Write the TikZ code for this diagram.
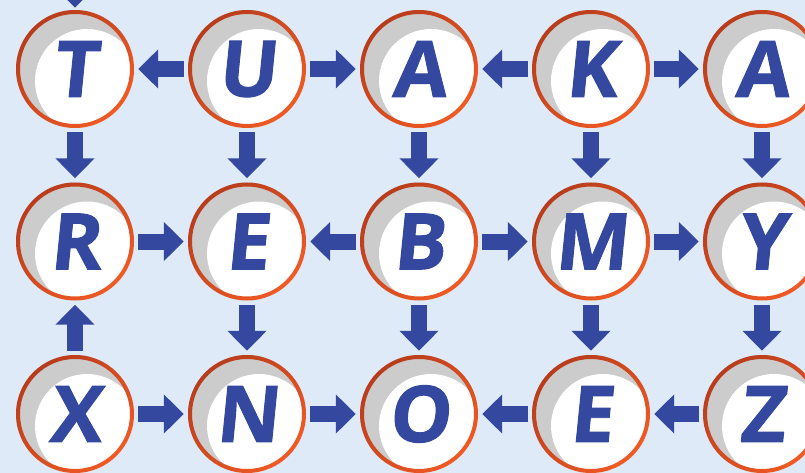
\documentclass[tikz,border=0pt]{standalone}
\usepackage{fontspec}
\newfontfamily\letterfont{Open Sans}[BoldFeatures={FakeSlant=0.1,FakeBold=1.2}]
\usetikzlibrary{arrows.meta}

\definecolor{bgblue}{RGB}{222,234,247}
\definecolor{letterblue}{RGB}{53,72,160}
\definecolor{shadegray}{RGB}{204,204,204}
\definecolor{ringdark}{RGB}{184,60,28}
\definecolor{ringlight}{RGB}{240,90,36}

\tikzset{
  letterdisc/.style={circle, minimum size=118pt, inner sep=0pt, fill=shadegray,
    path picture={\fill[white] ([xshift=12pt,yshift=-12pt]path picture bounding box.center) circle (52pt);},
    font=\letterfont\fontsize{78}{78}\selectfont\bfseries, text=letterblue},
  blockarrow/.style={line width=16pt, draw=letterblue,
    -{Triangle[width=38pt,length=20pt]}, shorten <=4pt, shorten >=4pt},
}

\begin{document}
\begin{tikzpicture}[x=1pt,y=-1pt]
            \useasboundingbox (0,0) rectangle (805,473);
            \clip (0,0) rectangle (805,473);
            \fill [bgblue] (0,0) rectangle (805,473);

            % Top row
            \node [letterdisc] (T)  at (75,69)  {T};
            \node [letterdisc] (U)  at (247,69) {U};
            \node [letterdisc] (A1) at (419,69) {A};
            \node [letterdisc] (K)  at (591,69) {K};
            \node [letterdisc] (A2) at (762,69) {A};

            % Middle row
            \node [letterdisc] (R)  at (75,241.5)  {R};
            \node [letterdisc] (E1) at (247,241.5) {E};
            \node [letterdisc] (B)  at (419,241.5) {B};
            \node [letterdisc] (M)  at (591,241.5) {M};
            \node [letterdisc] (Y)  at (762,241.5) {Y};

            % Bottom row
            \node [letterdisc] (X)  at (75,414)  {X};
            \node [letterdisc] (N)  at (247,414) {N};
            \node [letterdisc] (O)  at (419,414) {O};
            \node [letterdisc] (E2) at (591,414) {E};
            \node [letterdisc] (Z)  at (762,414) {Z};

            % Rings round the discs
            \foreach \n in {T,U,A1,K,A2,R,E1,B,M,Y,X,N,O,E2,Z}
              \shade [even odd rule, top color=ringdark, bottom color=ringlight, shading angle=45]
                (\n.center) circle (59pt) (\n.center) circle (55pt);

            % Arrows of the top row
            \draw [blockarrow] (U) -- (T);
            \draw [blockarrow] (U) -- (A1);
            \draw [blockarrow] (K) -- (A1);
            \draw [blockarrow] (K) -- (A2);

            % Arrows from the top row down
            \coordinate (above) at (75,-40);
            \draw [blockarrow, shorten >=2pt] (above) -- (T);
            \draw [blockarrow] (T) -- (R);
            \draw [blockarrow] (U) -- (E1);
            \draw [blockarrow] (A1) -- (B);
            \draw [blockarrow] (K) -- (M);
            \draw [blockarrow] (A2) -- (Y);

            % Arrows of the middle row
            \draw [blockarrow] (R) -- (E1);
            \draw [blockarrow] (B) -- (E1);
            \draw [blockarrow] (B) -- (M);
            \draw [blockarrow] (M) -- (Y);

            % Arrows between middle and bottom rows
            \draw [blockarrow] (X) -- (R);
            \draw [blockarrow] (E1) -- (N);
            \draw [blockarrow] (B) -- (O);
            \draw [blockarrow] (M) -- (E2);
            \draw [blockarrow] (Y) -- (Z);

            % Arrows of the bottom row
            \draw [blockarrow] (X) -- (N);
            \draw [blockarrow] (N) -- (O);
            \draw [blockarrow] (E2) -- (O);
            \draw [blockarrow] (Z) -- (E2);
        \end{tikzpicture}
\end{document}
